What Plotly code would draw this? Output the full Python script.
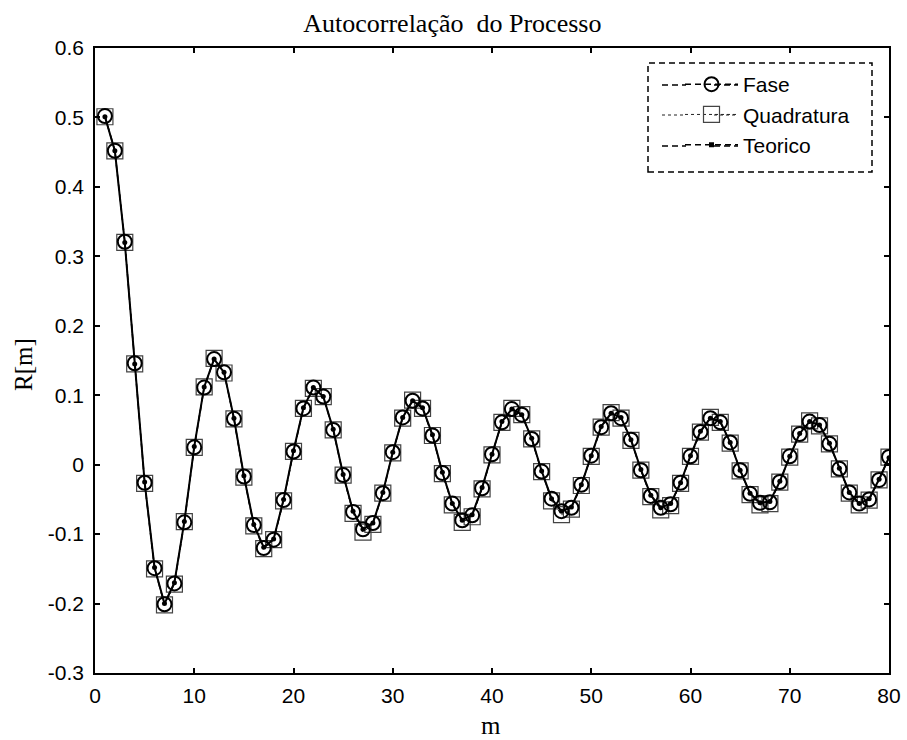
import plotly.graph_objects as go

# ---- data ----
m = list(range(1, 81))
teorico = [0.501, 0.452, 0.320, 0.145, -0.025, -0.148, -0.200, -0.170, -0.082, 0.026,
           0.112, 0.152, 0.133, 0.067, -0.016, -0.086, -0.119, -0.107, -0.050, 0.020,
           0.082, 0.111, 0.098, 0.051, -0.014, -0.067, -0.093, -0.084, -0.040, 0.018,
           0.068, 0.092, 0.082, 0.043, -0.011, -0.056, -0.080, -0.072, -0.033, 0.015,
           0.062, 0.080, 0.072, 0.038, -0.009, -0.049, -0.067, -0.061, -0.029, 0.013,
           0.055, 0.074, 0.068, 0.036, -0.007, -0.044, -0.062, -0.056, -0.026, 0.013,
           0.048, 0.067, 0.062, 0.032, -0.008, -0.041, -0.055, -0.053, -0.024, 0.012,
           0.045, 0.062, 0.057, 0.031, -0.005, -0.040, -0.056, -0.049, -0.021, 0.010]
fase = [0.502, 0.452, 0.321, 0.146, -0.026, -0.149, -0.201, -0.171, -0.083, 0.025,
        0.111, 0.152, 0.133, 0.066, -0.017, -0.087, -0.120, -0.108, -0.051, 0.019,
        0.081, 0.111, 0.098, 0.050, -0.015, -0.068, -0.093, -0.084, -0.041, 0.018,
        0.068, 0.092, 0.081, 0.042, -0.012, -0.056, -0.080, -0.073, -0.034, 0.015,
        0.061, 0.080, 0.072, 0.037, -0.010, -0.049, -0.067, -0.062, -0.029, 0.013,
        0.054, 0.074, 0.067, 0.036, -0.008, -0.045, -0.062, -0.057, -0.026, 0.012,
        0.047, 0.067, 0.061, 0.032, -0.008, -0.042, -0.055, -0.054, -0.025, 0.012,
        0.044, 0.062, 0.057, 0.030, -0.006, -0.040, -0.056, -0.050, -0.022, 0.011]
quadratura = [0.501, 0.452, 0.320, 0.145, -0.027, -0.150, -0.202, -0.172, -0.082, 0.025,
              0.112, 0.153, 0.132, 0.066, -0.018, -0.088, -0.121, -0.108, -0.052, 0.019,
              0.081, 0.110, 0.098, 0.050, -0.015, -0.070, -0.097, -0.086, -0.041, 0.017,
              0.067, 0.093, 0.081, 0.042, -0.013, -0.058, -0.083, -0.075, -0.035, 0.014,
              0.061, 0.081, 0.072, 0.037, -0.010, -0.052, -0.072, -0.064, -0.030, 0.012,
              0.054, 0.075, 0.067, 0.035, -0.008, -0.046, -0.065, -0.059, -0.027, 0.012,
              0.047, 0.068, 0.061, 0.031, -0.009, -0.043, -0.058, -0.056, -0.025, 0.011,
              0.044, 0.063, 0.056, 0.030, -0.006, -0.041, -0.058, -0.051, -0.022, 0.011]

x_ticks = [0, 10, 20, 30, 40, 50, 60, 70, 80]
y_ticks = [-0.3, -0.2, -0.1, 0, 0.1, 0.2, 0.3, 0.4, 0.5, 0.6]
y_tick_labels = ["-0.3", "-0.2", "-0.1", "0", "0.1", "0.2", "0.3", "0.4", "0.5", "0.6"]

title_text = "Autocorrelação  do Processo"
x_label = "m"
y_label = "R[m]"

# ---- figure ----
W, H = 907, 740
L, R, T, B = 95, 18, 48, 67
pw, ph = W - L - R, H - T - B

def px(xp):
    return (xp - L) / pw

def py(yp):
    return 1 - (yp - T) / ph

DASH = "6px,4px"

fig = go.Figure()

fig.add_trace(go.Scatter(
    x=m, y=quadratura, name="Quadratura", mode="lines+markers",
    line=dict(color="#222", width=1, dash="dot"),
    marker=dict(symbol="square-open", size=16, color="#444", line=dict(width=1.2, color="#444")),
    legendrank=2,
))
fig.add_trace(go.Scatter(
    x=m, y=fase, name="Fase", mode="lines+markers",
    line=dict(color="black", width=1.5, dash=DASH),
    marker=dict(symbol="circle-open", size=14, color="black", line=dict(width=2, color="black")),
    legendrank=1,
))
fig.add_trace(go.Scatter(
    x=m, y=teorico, name="Teorico", mode="lines+markers", showlegend=False,
    line=dict(color="black", width=2),
    marker=dict(symbol="circle", size=5, color="black"),
))
# legend-only representation of Teorico (dashed, as in the original legend)
fig.add_trace(go.Scatter(
    x=[None], y=[None], name="Teorico", mode="lines+markers",
    line=dict(color="black", width=1.5, dash=DASH),
    marker=dict(symbol="square", size=5, color="black"),
    legendrank=3,
))

# dashed legend frame
fig.add_shape(type="rect", xref="paper", yref="paper",
              x0=px(648), x1=px(872), y0=py(172), y1=py(63),
              line=dict(color="black", width=1.5, dash=DASH),
              fillcolor="white", layer="above")

# longer legend sample lines (MATLAB-style), extending plotly's short samples
leg_rows = [(85, DASH, "black", 1.5), (115, "dot", "#222", 1), (146, DASH, "black", 1.5)]
for yr, dsh, col, wd in leg_rows:
    for xa, xb in [(662, 686), (714, 738)]:
        fig.add_shape(type="line", xref="paper", yref="paper",
                      x0=px(xa), x1=px(xb), y0=py(yr), y1=py(yr),
                      line=dict(color=col, width=wd, dash=dsh), layer="above")

axis_common = dict(
    showline=True, linecolor="black", linewidth=1.5, mirror="ticks",
    ticks="inside", ticklen=5, tickwidth=1.5, tickcolor="black",
    showgrid=False, zeroline=False,
    tickfont=dict(family="Liberation Sans, Arial", size=21, color="black"),
)

fig.update_layout(
    width=W, height=H,
    margin=dict(l=L, r=R, t=T, b=B, autoexpand=False),
    paper_bgcolor="white", plot_bgcolor="white",
    title=dict(text=title_text, x=px(491), xanchor="center", y=1 - 23 / H, yanchor="middle",
               font=dict(family="Liberation Serif, Times New Roman", size=26, color="black")),
    xaxis=dict(range=[0, 80], tickvals=x_ticks, ticklabelstandoff=3, **axis_common),
    yaxis=dict(range=[-0.3, 0.6], tickvals=y_ticks, ticktext=y_tick_labels,
               ticklabelstandoff=5, **axis_common),
    legend=dict(x=px(680), y=py(64), xanchor="left", yanchor="top",
                bgcolor="rgba(0,0,0,0)", borderwidth=0,
                font=dict(family="Liberation Sans, Arial", size=21, color="black"),
                itemwidth=53, tracegroupgap=0),
    showlegend=True,
)

fig.add_annotation(text=x_label, xref="paper", yref="paper", x=px(491), y=py(725),
                   xanchor="center", yanchor="middle", showarrow=False,
                   font=dict(family="Liberation Serif, Times New Roman", size=25, color="black"))
fig.add_annotation(text=y_label, xref="paper", yref="paper", x=px(23), y=py(365),
                   xanchor="center", yanchor="middle", showarrow=False, textangle=-90,
                   font=dict(family="Liberation Serif, Times New Roman", size=25, color="black"))

fig.write_html("out.html")
